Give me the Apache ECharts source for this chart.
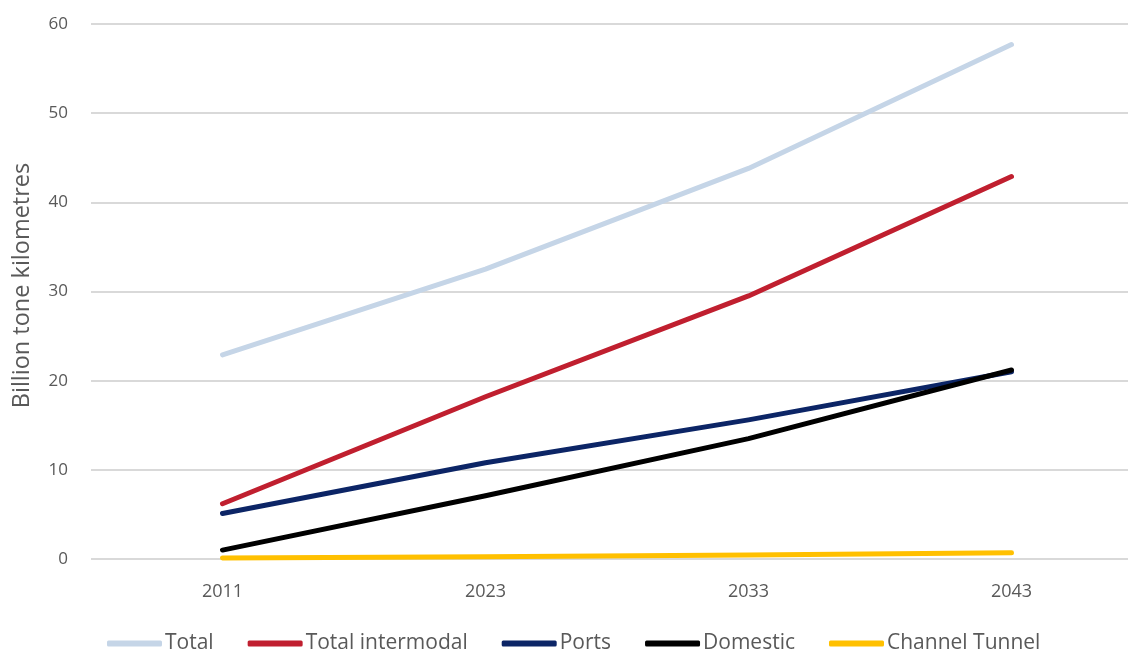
<!DOCTYPE html>
<html><head><meta charset="utf-8">
<script src="https://cdn.jsdelivr.net/npm/echarts@6/dist/echarts.min.js"></script>
<style>html,body{margin:0;padding:0;background:#fff;overflow:hidden}#c{width:1143px;height:652px}</style>
</head><body><div id="c"></div>
<script>
const years = ['2011', '2023', '2033', '2043'];
const total = [22.9, 32.5, 43.8, 57.7];
const intermodal = [6.2, 18.2, 29.5, 42.9];
const ports = [5.1, 10.8, 15.6, 21.0];
const domestic = [1.0, 7.1, 13.5, 21.2];
const channel = [0.1, 0.25, 0.45, 0.7];
const yTicks = [0, 10, 20, 30, 40, 50, 60];

const font = 'Open Sans';
const names = ['Total', 'Total intermodal', 'Ports', 'Domestic', 'Channel Tunnel'];
const colors = ['#C5D5E7', '#C01F2F', '#0C2566', '#000000', '#FFC000'];
const data = [total, intermodal, ports, domestic, channel];

const chart = echarts.init(document.getElementById('c'), null, {renderer: 'canvas'});
chart.setOption({
  animation: false,
  textStyle: {fontFamily: font},
  grid: {left: 91, top: 24, right: 0, bottom: 93, containLabel: false},
  legend: {
    left: 102, top: 628,
    icon: 'roundRect', itemWidth: 55, itemHeight: 6, itemGap: 34,
    textStyle: {fontSize: 21, color: '#595959', fontFamily: font, padding: [0, 0, 0, -2]},
    data: names
  },
  xAxis: {
    type: 'category', data: years, boundaryGap: true,
    axisLine: {show: false}, axisTick: {show: false},
    axisLabel: {fontSize: 18, color: '#595959', margin: 24}
  },
  yAxis: {
    type: 'value', min: 0, max: 60, interval: 10,
    name: 'Billion tone kilometres', nameLocation: 'middle', nameGap: 57,
    nameTextStyle: {fontSize: 23.5, color: '#595959', padding: [0, 0, 0, 12]},
    axisLine: {show: false}, axisTick: {show: false},
    axisLabel: {fontSize: 17, color: '#595959', margin: 23,
      formatter: v => yTicks.includes(v) ? String(v) : ''},
    splitLine: {lineStyle: {color: '#D9D9D9', width: 2}}
  },
  series: names.map((n, i) => ({
    name: n, type: 'line', data: data[i], showSymbol: false, symbol: 'none',
    lineStyle: {color: colors[i], width: 5, cap: 'round', join: 'round'},
    itemStyle: {color: colors[i]}
  }))
});
</script></body></html>
